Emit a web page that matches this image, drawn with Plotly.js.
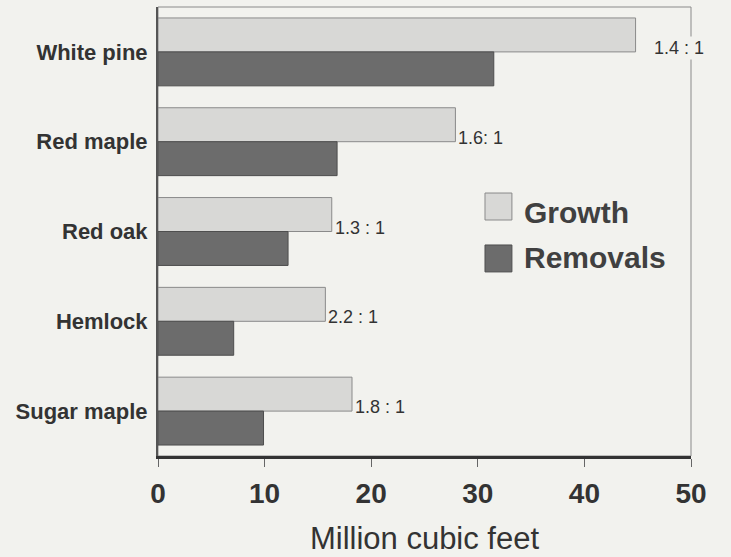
<!DOCTYPE html>
<html>
<head>
<meta charset="utf-8">
<script src="https://cdn.plot.ly/plotly-3.0.1.min.js"></script>
<style>html,body{margin:0;padding:0;background:#f2f2ee;}#chart{width:731px;height:557px;}</style>
</head>
<body>
<div id="chart"></div>
<script>
const species = ["White pine", "Red maple", "Red oak", "Hemlock", "Sugar maple"];
const growth = [44.8, 27.9, 16.3, 15.7, 18.2];
const removals = [31.5, 16.8, 12.2, 7.1, 9.9];
const ratioLabels = ["1.4 : 1", "1.6: 1", "1.3 : 1", "2.2 : 1", "1.8 : 1"];
const xTicks = [0, 10, 20, 30, 40, 50];
const seriesNames = ["Growth", "Removals"];

const bg = "#f2f2ee";
const growthFill = "#d8d8d6", growthLine = "#8a8a8a";
const remFill = "#6c6c6c", remLine = "#4e4e4e";

const traces = [
  {type: "bar", orientation: "h", name: seriesNames[0], y: species, x: growth,
   marker: {color: growthFill, line: {color: growthLine, width: 1}}, hoverinfo: "x+y"},
  {type: "bar", orientation: "h", name: seriesNames[1], y: species, x: removals,
   marker: {color: remFill, line: {color: remLine, width: 1}}, hoverinfo: "x+y"}
];

const annotations = ratioLabels.map((t, i) => ({
  x: growth[i], y: species[i], xref: "x", yref: "y", text: t, showarrow: false,
  xanchor: "left", yanchor: "middle", xshift: i === 0 ? 16 : 1, yshift: 4,
  bgcolor: i === 0 ? bg : "rgba(0,0,0,0)",
  font: {family: "Liberation Sans, Arial, sans-serif", size: 18, color: "#333"}
}));

// legend (drawn manually to match large swatches)
const legendItems = [
  {name: seriesNames[0], fill: growthFill, line: growthLine, y0: 0.5256, y1: 0.5857, ty: 0.543},
  {name: seriesNames[1], fill: remFill, line: remLine, y0: 0.410, y1: 0.470, ty: 0.443}
];
const shapes = [
  {type: "rect", xref: "paper", yref: "paper", x0: 0, x1: 1, y0: 0, y1: 1,
   line: {color: "#8a8a8a", width: 1}, layer: "below"}
];
legendItems.forEach(it => {
  shapes.push({type: "rect", xref: "paper", yref: "paper", x0: 0.6135, x1: 0.664,
    y0: it.y0, y1: it.y1, fillcolor: it.fill, line: {color: it.line, width: 1}});
  annotations.push({xref: "paper", yref: "paper", x: 0.683, y: it.ty, text: it.name,
    showarrow: false, xanchor: "left", yanchor: "middle",
    font: {family: "Liberation Sans, Arial, sans-serif", size: 30, color: "#404040", weight: "bold"}});
});

const layout = {
  width: 731, height: 557,
  margin: {l: 158, r: 40, t: 7, b: 101, pad: 0},
  paper_bgcolor: bg, plot_bgcolor: bg,
  barmode: "group", bargap: 0.244, bargroupgap: 0,
  showlegend: false,
  font: {family: "Liberation Sans, Arial, sans-serif", color: "#333"},
  xaxis: {
    range: [0, 50], tickvals: xTicks, ticktext: xTicks.map(String),
    showgrid: false, zeroline: false,
    showline: true, linecolor: "#333", linewidth: 3,
    ticks: "outside", ticklen: 8, tickwidth: 1, tickcolor: "#666",
    ticklabelstandoff: 2,
    tickfont: {size: 28, color: "#333", weight: "bold"},
    title: {text: "Million cubic feet", standoff: 20,
            font: {size: 31, color: "#333"}},
    automargin: false, fixedrange: true
  },
  yaxis: {
    type: "category", categoryorder: "array", categoryarray: species,
    range: [4.5, -0.5],
    showgrid: false, zeroline: false,
    showline: true, linecolor: "#555", linewidth: 2,
    ticks: "", ticklabelstandoff: 4,
    tickfont: {size: 22, color: "#333", weight: "bold"},
    automargin: false, fixedrange: true
  },
  shapes: shapes,
  annotations: annotations
};

Plotly.newPlot("chart", traces, layout, {displayModeBar: false, staticPlot: true});
</script>
</body>
</html>
